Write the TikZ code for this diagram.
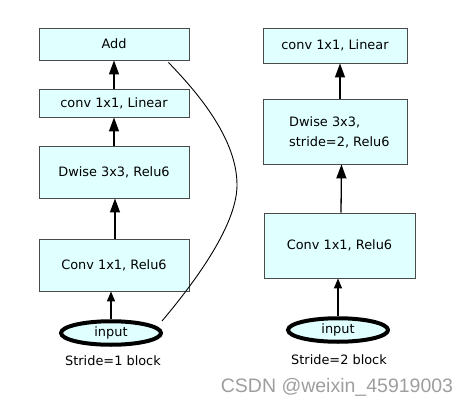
\documentclass[tikz,border=0pt]{standalone}
\usepackage{fontspec}
\setmainfont{DejaVu Sans}
\newfontfamily\wmfont{Liberation Sans}
\usetikzlibrary{arrows.meta,calc,shapes.geometric}
\definecolor{boxfill}{HTML}{E0FFFF}
\definecolor{boxline}{HTML}{4A4A4A}
\begin{document}
\begin{tikzpicture}[x=1pt,y=-1pt,
  blk/.style={draw=boxline,line width=0.9pt,fill=boxfill,inner sep=0pt,font=\fontsize{12.9}{15}\selectfont},
  inp/.style={draw=black,line width=4pt,fill=boxfill,ellipse,minimum width=100pt,minimum height=23.5pt,inner sep=0pt,font=\fontsize{12.9}{15}\selectfont},
  captxt/.style={font=\fontsize{12.9}{15}\selectfont,inner sep=0pt},
  arr/.style={-{Triangle[length=14pt,width=10pt]},line width=1.3pt,black},
  arrs/.style={-{Triangle[length=10pt,width=8pt]},line width=1.3pt,black}]
\useasboundingbox (0,0) rectangle (468,401);
% left column
\node[blk,minimum width=150pt,minimum height=32pt] (add) at (114,44) {Add};
\node[blk,minimum width=150pt,minimum height=28pt] (lin1) at (114,103) {conv 1x1, Linear};
\node[blk,minimum width=150pt,minimum height=52pt] (dw1) at (114,172) {Dwise 3x3, Relu6};
\node[blk,minimum width=150pt,minimum height=52pt] (cv1) at (114,265) {Conv 1x1, Relu6};
\node[inp] (in1) at (111,333) {input};
\node[captxt] (s1) at (113,361) {Stride=1 block};
\draw[arrs] (in1.north) -- (in1.north |- cv1.south);
\draw[arr] ($(cv1.north)+(1,0)$) -- ($(dw1.south)+(1,0)$);
\draw[arr] (dw1.north) -- (lin1.south);
\draw[arr] (lin1.north) -- (add.south);
\coordinate (c1) at ($(in1.east)+(-1,-12)$);
\coordinate (c2) at ($(add.south east)+(-21,2)$);
\draw[line width=0.9pt] (c1) .. controls (205,270) and (237,220) .. (237,185)
  .. controls (237,140) and (200,95) .. (c2);
% right column
\node[blk,minimum width=144pt,minimum height=35pt] (lin2) at (335,45.5) {conv 1x1, Linear};
\node[blk,minimum width=144pt,minimum height=65pt] (dw2) at (335,131.5) {};
\node[captxt,align=left,anchor=west,font=\fontsize{12.9}{20}\selectfont] (dwt) at (289,132) {Dwise 3x3,\\stride=2, Relu6};
\node[blk,minimum width=151pt,minimum height=65pt] (cv2) at (339.5,245.5) {Conv 1x1, Relu6};
\node[inp] (in2) at (338,330) {input};
\node[captxt] (s2) at (339,360) {Stride=2 block};
\draw[arrs] (in2.north) -- (in2.north |- cv2.south);
\draw[arr] ($(cv2.north)+(1.5,0)$) -- ($(dw2.south)+(6.5,0)$);
\draw[arr] ($(dw2.north)+(5,0)$) -- ($(lin2.south)+(5,0)$);
% watermark
\node[font=\wmfont\fontsize{19.5}{22}\selectfont,text=black!38,inner sep=0pt,anchor=base] (wm) at (337,392) {CSDN @weixin\_45919003};
\end{tikzpicture}
\end{document}
